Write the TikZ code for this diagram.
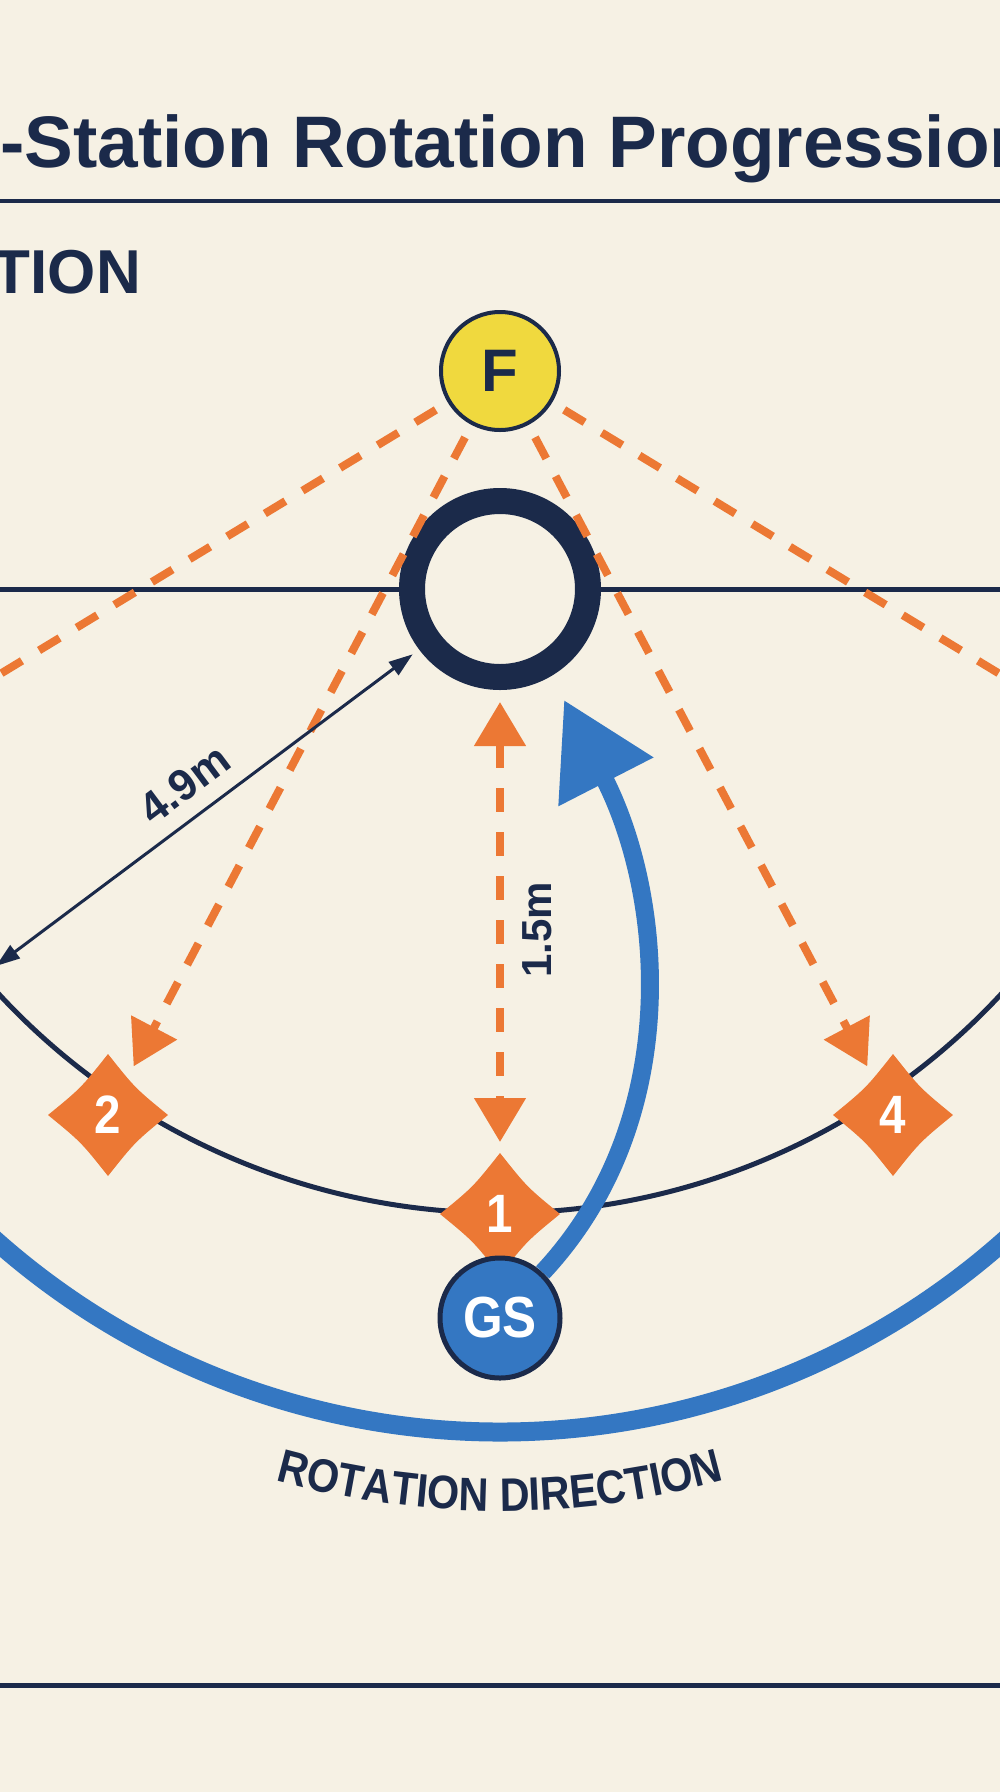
\documentclass[tikz,border=0pt]{standalone}
\usepackage{fontspec}
\setmainfont{Liberation Sans}
\newfontfamily\narrowsans[FakeStretch=0.88]{Liberation Sans}
\usetikzlibrary{arrows.meta,decorations.text}

\definecolor{court}{RGB}{246,241,228}
\definecolor{navy}{RGB}{27,42,74}
\definecolor{accent}{RGB}{236,120,52}
\definecolor{sunny}{RGB}{240,217,62}
\definecolor{rotblue}{RGB}{52,119,194}

% four-point station marker
\newcommand{\spark}[1]{\fill[accent, shift={#1}] (0,-61) .. controls (27,-27) .. (60,0) .. controls (27,27) .. (0,61) .. controls (-27,27) .. (-60,0) .. controls (-27,-27) .. (0,-61) -- cycle;}

\begin{document}
\begin{tikzpicture}[x=1pt, y=-1pt,
  pass/.style={accent, line width=8pt, dash pattern=on 24pt off 20pt},
  passtip/.style={-{Triangle[length=44pt,width=50pt]}},
  stationnode/.style={circle, minimum size=110pt, inner sep=0pt, outer sep=0pt, text=white, font=\narrowsans\fontsize{54pt}{54pt}\selectfont\bfseries},
  player/.style={circle, minimum size=118pt, inner sep=0pt, draw=navy, line width=4pt},
  dimlabel/.style={navy, inner sep=2pt, font=\fontsize{44pt}{44pt}\selectfont\bfseries}]
\useasboundingbox (0,0) rectangle (1000,1792);
\fill[court] (0,0) rectangle (1000,1792);

% Heading
\node[anchor=base west, inner sep=0pt, navy, font=\fontsize{73pt}{80pt}\selectfont\bfseries] (title) at (0,167) {-Station Rotation Progression};
\draw[navy, line width=4pt] (0,201) -- (1000,201);
\node[anchor=base east, inner sep=0pt, navy, font=\fontsize{62pt}{64pt}\selectfont\bfseries] (section) at (141,293) {TION};

% Court lines
\draw[navy, line width=5pt] (0,589) -- (1000,589);
\draw[navy, line width=5pt] ([shift={(500,530)}]145:683) arc[start angle=145, end angle=35, radius=683];
\draw[rotblue, line width=19pt] ([shift={(500,672)}]140:760) arc[start angle=140, end angle=40, radius=760];

% Stations
\spark{(108,1115)}
\node[stationnode] (st2) at (108,1115) {2};
\spark{(893,1115)}
\node[stationnode] (st4) at (893,1115) {4};
\spark{(500,1214)}
\node[stationnode] (st1) at (500,1214) {1};

% Ring and players
\node[circle, draw=navy, line width=26pt, fill=court, minimum size=176pt, inner sep=0pt, outer sep=0pt] (hoop) at (500,589) {};
\node[player, fill=sunny, text=navy, font=\fontsize{60pt}{60pt}\selectfont\bfseries] (feeder) at (500,371) {F};
\node[player, fill=rotblue, text=white, minimum size=120pt, line width=5pt, font=\narrowsans\fontsize{58pt}{58pt}\selectfont\bfseries] (shooter) at (500,1318) {GS};

% Passes from the feeder
\coordinate (offleft) at (-150,765);
\coordinate (offright) at (1150,765);
\draw[pass, shorten <=14pt] (feeder) -- (offleft);
\draw[pass, shorten <=14pt] (feeder) -- (offright);
\draw[pass, passtip, shorten <=14pt] (feeder) -- (st2);
\draw[pass, passtip, shorten <=14pt] (feeder) -- (st4);
\draw[pass, {Triangle[length=44pt,width=50pt]}-{Triangle[length=44pt,width=50pt]}, shorten <=25pt, shorten >=17pt] (hoop) -- (st1);
\node[dimlabel, rotate=90, font=\fontsize{42pt}{42pt}\selectfont\bfseries] (lblgap) at (537,930) {1.5m};

% Radius
\coordinate (rim) at (-4,966);
\draw[navy, line width=3pt, {Triangle[length=24pt,width=16pt]}-{Triangle[length=24pt,width=16pt]}, shorten >=21pt] (rim) -- (hoop) node[dimlabel, pos=0.48, sloped, above=14pt] (lblradius) {4.9m};

% Rotation
\coordinate (rottip) at (564,700);
\draw[rotblue, line width=18pt, -{Triangle[length=92pt,width=102pt]}] (shooter) .. controls (685,1120) and (664,895) .. (rottip);
\path[decorate, decoration={text along path, text={|\narrowsans\fontsize{47pt}{50pt}\selectfont\bfseries|ROTATION DIRECTION}, text color=navy, text align=center}] (213,1460.4) arc[start angle=110, end angle=70, radius=839];

\draw[navy, line width=5pt] (0,1685) -- (1000,1685);
\end{tikzpicture}
\end{document}
